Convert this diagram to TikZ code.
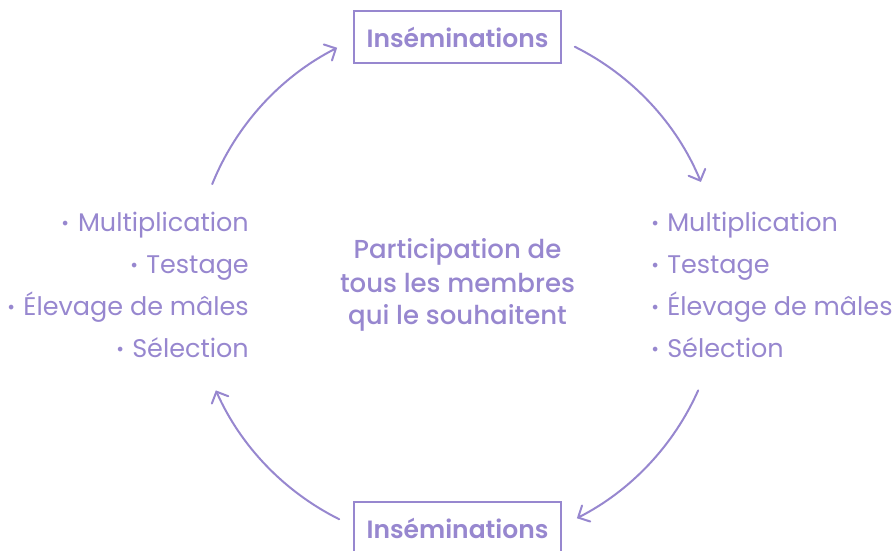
\documentclass[tikz,border=0pt]{standalone}
\usepackage{fontspec}
\setmainfont{Poppins}[BoldFont={Poppins SemiBold}]
\newfontfamily\medfont{Poppins Medium}
\usetikzlibrary{arrows.meta,calc}
\definecolor{lav}{RGB}{151,135,207}
\newcommand{\bul}{\raisebox{-5pt}{\fontsize{38}{38}\selectfont ·}\hspace{8pt}}
\begin{document}
\begin{tikzpicture}[x=1pt,y=1pt,
  lst/.style={inner sep=0pt,text=lav,font=\fontsize{25.5}{28}\selectfont},
  ctext/.style={inner sep=0pt,text=lav,font=\fontsize{26}{26}\medfont},
  boxtxt/.style={draw=lav,line width=2pt,text=lav,minimum width=207pt,minimum height=52pt,inner sep=0pt,font=\fontsize{25}{26}\selectfont\bfseries},
  arr/.style={draw=lav,line width=2pt,line cap=round,-{Straight Barb[length=9pt,width=18pt,line cap=round]}}]
\useasboundingbox (0,0) rectangle (894,551);
% boxes
\node[boxtxt] (top) at (457.5,551-37) {Inséminations};
\node[boxtxt] (bot) at (457.5,551-528) {Inséminations};
% centre text
\node[ctext,anchor=base] (c1) at (457.5,551-259) {Participation de};
\node[ctext,anchor=base] (c2) at (457.5,551-293) {tous les membres};
\node[ctext,anchor=base] (c3) at (457.5,551-325) {qui le souhaitent};
% left list
\node[lst,anchor=base east] (l1) at (249,551-232) {\bul Multiplication};
\node[lst,anchor=base east] (l2) at (249,551-274) {\bul Testage};
\node[lst,anchor=base east] (l3) at (249,551-316) {\bul Élevage de mâles};
\node[lst,anchor=base east] (l4) at (249,551-358) {\bul Sélection};
% right list
\node[lst,anchor=base west] (r1) at (651,551-232) {\bul Multiplication};
\node[lst,anchor=base west] (r2) at (651,551-274) {\bul Testage};
\node[lst,anchor=base west] (r3) at (651,551-316) {\bul Élevage de mâles};
\node[lst,anchor=base west] (r4) at (651,551-358) {\bul Sélection};
% arcs
\coordinate (ctr) at (457,268);
\coordinate (a1) at ($(ctr)+(158:264)$);
\coordinate (a2) at ($(ctr)+(63.5:264)$);
\coordinate (a3) at ($(ctr)+(-24:264)$);
\coordinate (a4) at ($(ctr)+(-116.5:264)$);
\draw[arr] (a1) arc[start angle=158,end angle=117,radius=264];
\draw[arr] (a2) arc[start angle=63.5,end angle=22.5,radius=264];
\draw[arr] (a3) arc[start angle=-24,end angle=-63,radius=264];
\draw[arr] (a4) arc[start angle=-116.5,end angle=-156,radius=264];
\end{tikzpicture}
\end{document}
